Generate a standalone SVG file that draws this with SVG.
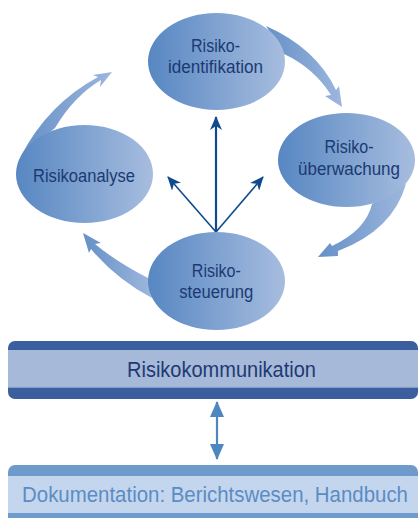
<svg xmlns="http://www.w3.org/2000/svg" width="419" height="518" viewBox="0 0 419 518">
<defs>
<linearGradient id="eg" x1="0" y1="0" x2="1" y2="0">
<stop offset="0" stop-color="#5787c2"/>
<stop offset="1" stop-color="#a7bddf"/>
</linearGradient>
<linearGradient id="sg" x1="0" y1="0" x2="1" y2="0">
<stop offset="0" stop-color="#6590c7"/>
<stop offset="1" stop-color="#9db7dd"/>
</linearGradient>
<marker id="ah" viewBox="0 0 14 12" refX="13" refY="6" markerWidth="14" markerHeight="12" markerUnits="userSpaceOnUse" orient="auto">
<path d="M0 0 L14 6 L0 12 L4 6 Z" fill="#0e4a8c"/>
</marker>
<marker id="dh" viewBox="0 0 16 14" refX="15" refY="7" markerWidth="16" markerHeight="14" markerUnits="userSpaceOnUse" orient="auto-start-reverse">
<path d="M0 0 L16 7 L0 14 Z" fill="#4e86c2"/>
</marker>
<clipPath id="bar1"><rect x="8" y="341" width="410" height="58" rx="7"/></clipPath>
<clipPath id="bar2"><path d="M8 518 V472 A7 7 0 0 1 15 465 H411 A7 7 0 0 1 418 472 V518 Z"/></clipPath>
</defs>
<style>
.ell{fill:url(#eg)}
.sw{fill:url(#sg)}
.lbl{font-family:"Liberation Sans Narrow","Liberation Sans",Arial,sans-serif;font-size:17.5px;fill:#1b3a73;text-anchor:middle}
.bar{font-family:"Liberation Sans Narrow","Liberation Sans",Arial,sans-serif;font-size:22px;text-anchor:middle}
.arr{stroke:#0e4a8c;fill:none}
</style>
<g id="connectors">
<path class="sw" d="M266 26 Q316 48 336 90 L339 86 L342 107 L325 96 L331 95 Q314 68 284 54 Z"/>
<path class="sw" d="M406 184 Q393 230 338 251 L338 256 L318 257 L330 243 L332 246 Q366 230 372 204 Z"/>
<path class="sw" d="M150 279 Q118 263 95 244 L101 243 L83 233 L89 253 L91 249 Q116 279 152 298 Z"/>
<path class="sw" d="M55 128 Q74 96 101 80 L100 87 L112 72 L93 75 L98 77 Q48 104 21 156 Z"/>
<line class="arr" x1="216" y1="232" x2="216" y2="117" stroke-width="2.2" marker-end="url(#ah)"/>
<line class="arr" x1="216" y1="232" x2="168" y2="177" stroke-width="1.6" marker-end="url(#ah)"/>
<line class="arr" x1="216" y1="232" x2="263" y2="177" stroke-width="1.6" marker-end="url(#ah)"/>
<line x1="217" y1="402" x2="217" y2="459" stroke="#4e86c2" stroke-width="2.2" marker-start="url(#dh)" marker-end="url(#dh)"/>
</g>
<g id="risikoidentifikation">
<ellipse class="ell" cx="216.5" cy="61.5" rx="68.5" ry="48.5"/>
<text class="lbl" x="215.5" y="52.3" textLength="49" lengthAdjust="spacingAndGlyphs">Risiko-</text>
<text class="lbl" x="215.5" y="72.7" textLength="95" lengthAdjust="spacingAndGlyphs">identifikation</text>
</g>
<g id="risikoanalyse">
<ellipse class="ell" cx="84.5" cy="174" rx="68.5" ry="49"/>
<text class="lbl" x="84" y="181.7" textLength="102" lengthAdjust="spacingAndGlyphs">Risikoanalyse</text>
</g>
<g id="risikoueberwachung">
<ellipse class="ell" cx="346.5" cy="160" rx="68.5" ry="47"/>
<text class="lbl" x="349" y="152.7" textLength="49" lengthAdjust="spacingAndGlyphs">Risiko-</text>
<text class="lbl" x="349" y="175" textLength="102" lengthAdjust="spacingAndGlyphs">überwachung</text>
</g>
<g id="risikosteuerung">
<ellipse class="ell" cx="216.5" cy="281" rx="68.5" ry="49"/>
<text class="lbl" x="216.3" y="277.3" textLength="49" lengthAdjust="spacingAndGlyphs">Risiko-</text>
<text class="lbl" x="216.3" y="298.3" textLength="74" lengthAdjust="spacingAndGlyphs">steuerung</text>
</g>
<g id="risikokommunikation">
<g clip-path="url(#bar1)">
<rect x="8" y="341" width="410" height="58" fill="#3a5e9e"/>
<rect x="8" y="350" width="410" height="37.5" fill="#a6b9d9"/>
<rect x="8" y="386.8" width="410" height="1" fill="#8aa3cc"/>
</g>
<text class="bar" x="221.5" y="377" fill="#1f3a72" textLength="189" lengthAdjust="spacingAndGlyphs">Risikokommunikation</text>
</g>
<g id="dokumentation">
<g clip-path="url(#bar2)">
<rect x="8" y="465" width="410" height="53" fill="#6f9bcc"/>
<rect x="8" y="476" width="410" height="37" fill="#c4d6ee"/>
</g>
<text class="bar" transform="translate(215 502) scale(0.9286 1)" x="0" y="0" fill="#5b8cc3">Dokumentation: Berichtswesen, Handbuch</text>
</g>
</svg>
